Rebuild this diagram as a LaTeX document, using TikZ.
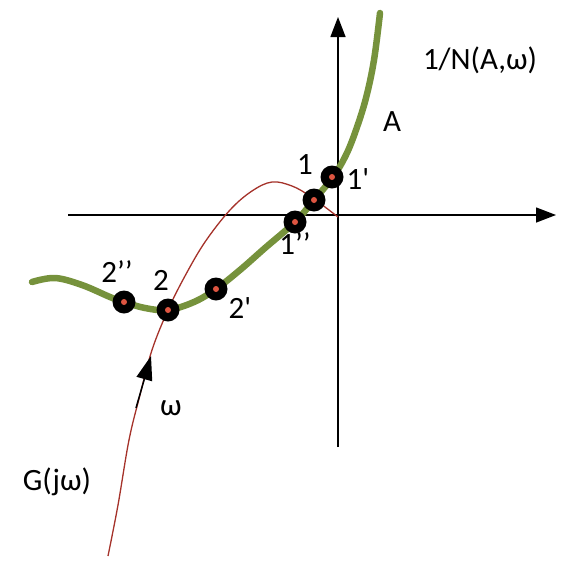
\documentclass[tikz,border=0pt]{standalone}
\usepackage{fontspec}
\setmainfont{Carlito}
\newfontfamily\rawf{Carlito}
\usetikzlibrary{arrows.meta}
\definecolor{grn}{RGB}{118,146,60}
\definecolor{redc}{RGB}{165,50,42}
\definecolor{dotc}{RGB}{222,85,65}
\newcommand{\tick}{{\rawf '}}
\tikzset{
  lbl/.style={font=\fontsize{31}{36}\selectfont, inner sep=0pt},
  axis/.style={line width=1.4pt, -{Triangle[length=20pt,width=15pt]}},
  pt/.style={circle, fill=black, minimum size=23pt, inner sep=0pt},
  ptc/.style={circle, fill=dotc, minimum size=6pt, inner sep=0pt}
}
\begin{document}
\begin{tikzpicture}[x=1pt,y=-1pt]
\useasboundingbox (0,0) rectangle (573,560);
% axes
\coordinate (xs) at (68,215);
\coordinate (xe) at (556,215);
\coordinate (ys) at (338,447);
\coordinate (ye) at (338,17);
\draw[axis] (xs) -- (xe);
\draw[axis] (ys) -- (ye);
% green curve 1/N
\draw[grn, line width=6.5pt, line cap=round] plot[smooth, tension=0.6] coordinates {
 (32,282) (55,278) (82,285) (110,297) (124,302) (145,308) (168,310) (194,302)
 (216,289) (240,270) (265,248) (295,222) (314,200) (333,177) (346,155)
 (356,130) (366,98) (374,60) (380,13)};
% red curve G(jw)
\draw[redc, line width=1.3pt] plot[smooth, tension=0.6] coordinates {
 (108,556) (118,505) (129,440) (140,395) (152,350) (168,310) (185,276)
 (205,242) (230,210) (252,191) (272,182) (292,186) (310,196) (325,207) (338,217)};
% arrow
\coordinate (aw1) at (136,408);
\coordinate (aw2) at (151,356);
\draw[line width=1.5pt, -{Triangle[length=24pt,width=16pt]}] (aw1) -- (aw2);
% points
\foreach \n/\x/\y in {p2a/124/302, p2/168/310, p2b/216/289, p1a/295/222, p1m/314/200, p1b/332/177}{
  \node[pt] (\n) at (\x,\y) {};
  \node[ptc] (\n c) at (\x,\y) {};
}
% labels
\node[lbl] (lN) at (480,60) {1/N(A,ω)};
\node[lbl] (lA) at (392,122) {A};
\node[lbl] (l1) at (305,165) {1};
\node[lbl] (l1b) at (358,179) {1\tick};
\node[lbl] (l1a) at (295,244) {1’’};
\node[lbl] (l2a) at (117,272) {2’’};
\node[lbl] (l2) at (161,280) {2};
\node[lbl] (l2b) at (240,308) {2\tick};
\node[lbl] (lw) at (171,408) {ω};
\node[lbl] (lG) at (57,482) {G(jω)};
\end{tikzpicture}
\end{document}
